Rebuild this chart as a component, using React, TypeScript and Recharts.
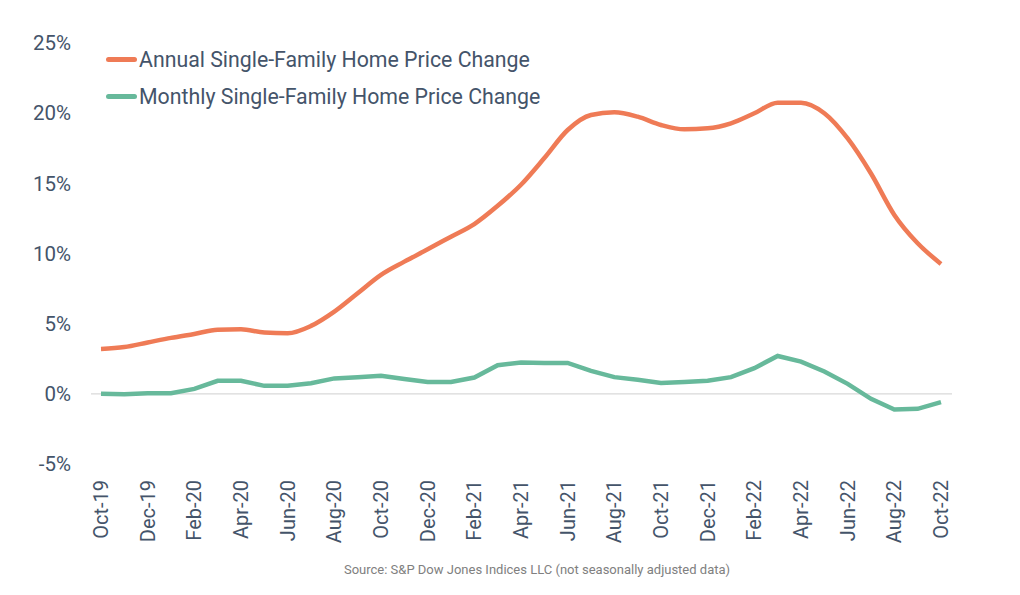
import { LineChart, Line, XAxis, YAxis, ReferenceLine } from 'recharts';

const MONTHS = [
    'Oct-19', 'Nov-19', 'Dec-19', 'Jan-20', 'Feb-20', 'Mar-20', 'Apr-20', 'May-20', 'Jun-20',
    'Jul-20', 'Aug-20', 'Sep-20', 'Oct-20', 'Nov-20', 'Dec-20', 'Jan-21', 'Feb-21', 'Mar-21',
    'Apr-21', 'May-21', 'Jun-21', 'Jul-21', 'Aug-21', 'Sep-21', 'Oct-21', 'Nov-21', 'Dec-21',
    'Jan-22', 'Feb-22', 'Mar-22', 'Apr-22', 'May-22', 'Jun-22', 'Jul-22', 'Aug-22', 'Sep-22',
    'Oct-22',
];

const ANNUAL = [
    3.2, 3.33, 3.66, 3.99, 4.27, 4.56, 4.6, 4.37, 4.32,
    4.84, 5.86, 7.17, 8.48, 9.42, 10.3, 11.2, 12.1, 13.4,
    14.9, 16.8, 18.8, 19.87, 20.06, 19.75, 19.16, 18.85, 18.92,
    19.28, 19.99, 20.75, 20.75, 20.0, 18.2, 15.7, 12.75, 10.73,
    9.26,
];

const MONTHLY = [
    0.0, -0.03, 0.05, 0.05, 0.35, 0.93, 0.93, 0.57, 0.57,
    0.76, 1.1, 1.18, 1.28, 1.05, 0.85, 0.85, 1.16, 2.04,
    2.23, 2.2, 2.2, 1.64, 1.19, 1.0, 0.78, 0.85, 0.93,
    1.19, 1.83, 2.7, 2.3, 1.59, 0.71, -0.36, -1.12, -1.07,
    -0.59,
];

const Y_TICKS = [-5, 0, 5, 10, 15, 20, 25];

const SERIES = [
    { key: 'annual', name: 'Annual Single-Family Home Price Change', color: '#ef7b56' },
    { key: 'monthly', name: 'Monthly Single-Family Home Price Change', color: '#67b99b' },
];

const data = MONTHS.map((m, i) => ({ month: m, annual: ANNUAL[i], monthly: MONTHLY[i] }));

const TEXT = '#44546a';
const FONT = 'Roboto, "Noto Sans", sans-serif';

const XTick = ({ x, y, payload }: any) => (
    <text
        x={0}
        y={0}
        dy="0.35em"
        transform={`translate(${x}, ${y + 8}) rotate(-90)`}
        textAnchor="end"
        fill={TEXT}
        fontSize={20}
        fontFamily={FONT}
    >
        {payload.value}
    </text>
);

export default function App() {
    return (
        <div style={{ position: 'absolute', left: 0, top: 0, width: 1020, height: 595, background: '#fff' }}>
            <LineChart
                width={1020}
                height={595}
                data={data}
                margin={{ top: 43, right: 68, bottom: 51, left: 0 }}
            >
                <XAxis
                    dataKey="month"
                    interval={1}
                    tick={<XTick />}
                    tickLine={false}
                    axisLine={false}
                    height={80}
                    padding={{ left: 10, right: 11 }}
                />
                <YAxis
                    domain={[-5, 25]}
                    ticks={Y_TICKS}
                    tickFormatter={(v) => `${v}%`}
                    tickLine={false}
                    axisLine={false}
                    width={91}
                    tickMargin={14}
                    tick={{ fill: TEXT, fontSize: 20.5, fontFamily: FONT }}
                />
                <ReferenceLine y={0} stroke="#d9d9d9" strokeWidth={1.2} />
                <Line
                    type="monotone"
                    dataKey="annual"
                    name={SERIES[0].name}
                    stroke={SERIES[0].color}
                    strokeWidth={4.5}
                    dot={false}
                    isAnimationActive={false}
                />
                <Line
                    type="linear"
                    dataKey="monthly"
                    name={SERIES[1].name}
                    stroke={SERIES[1].color}
                    strokeWidth={4.5}
                    dot={false}
                    isAnimationActive={false}
                />
            </LineChart>

            {/* legend */}
            <div
                style={{
                    position: 'absolute',
                    top: 41,
                    left: 106,
                    fontFamily: FONT,
                    fontSize: 21.3,
                    color: TEXT,
                    lineHeight: '37px',
                }}
            >
                {SERIES.map((s) => (
                    <div key={s.key} style={{ display: 'flex', alignItems: 'center', whiteSpace: 'nowrap' }}>
                        <span style={{ width: 31, height: 5, borderRadius: 3, background: s.color, marginRight: 2 }} />
                        <span>{s.name}</span>
                    </div>
                ))}
            </div>

            <div
                style={{
                    position: 'absolute',
                    top: 562,
                    left: 0,
                    width: 1074,
                    textAlign: 'center',
                    fontFamily: FONT,
                    fontSize: 13,
                    color: '#808080',
                }}
            >
                Source: S&amp;P Dow Jones Indices LLC (not seasonally adjusted data)
            </div>
        </div>
    );
}
